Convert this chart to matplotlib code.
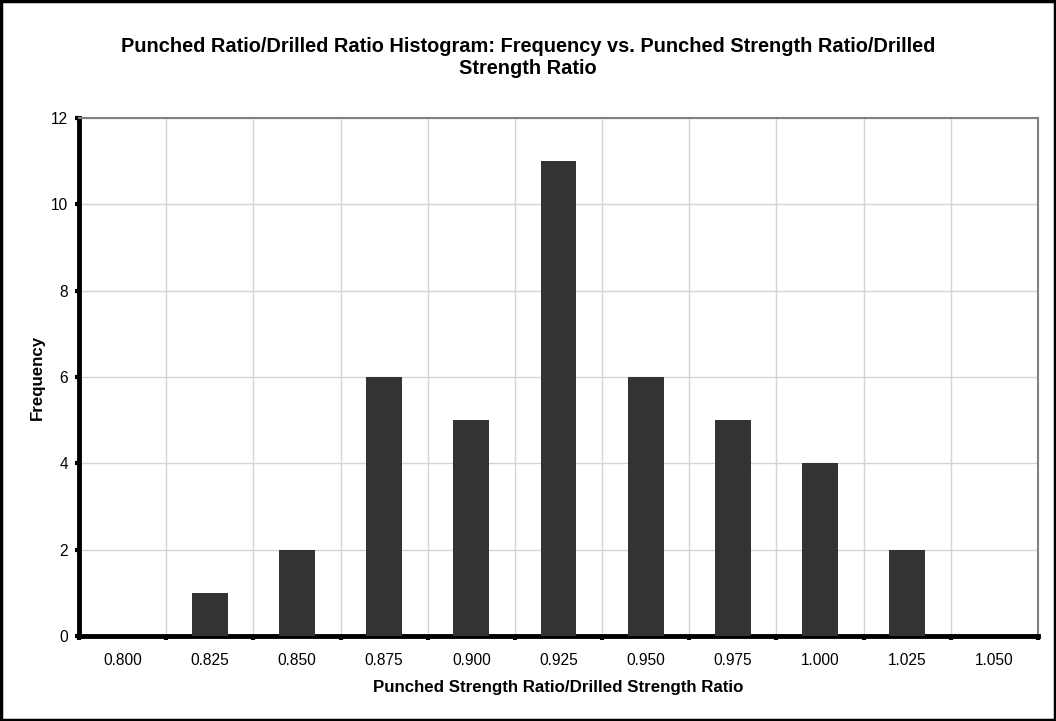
import matplotlib
matplotlib.use('Agg')
import matplotlib.pyplot as plt
from matplotlib.patches import Rectangle

plt.rcParams['font.family'] = ['Liberation Sans', 'DejaVu Sans']

# 数据
categories = ["0.800", "0.825", "0.850", "0.875", "0.900", "0.925",
              "0.950", "0.975", "1.000", "1.025", "1.050"]
frequency = [0, 1, 2, 6, 5, 11, 6, 5, 4, 2, 0]
y_ticks = [0, 2, 4, 6, 8, 10, 12]

fig = plt.figure(figsize=(10.56, 7.21), dpi=100)
ax = fig.add_axes([0.0748, 0.118, 0.9082, 0.7183])

x = list(range(len(categories)))
ax.bar(x, frequency, width=0.41, color='#333333', zorder=3)

ax.set_xlim(-0.5, len(categories) - 0.5)
ax.set_ylim(0, 12)
ax.set_yticks(y_ticks)
ax.set_yticklabels([str(v) for v in y_ticks], fontsize=11.2)

# 类别刻度在边界，标签在中间
ax.set_xticks([i - 0.5 for i in range(len(categories) + 1)])
ax.set_xticklabels([])
ax.set_xticks(x, minor=True)
ax.set_xticklabels(categories, minor=True, fontsize=11.2)
ax.tick_params(axis='x', which='minor', length=0, pad=12)
ax.tick_params(axis='x', which='major', length=3, width=3, direction='out')
ax.tick_params(axis='y', length=3, width=3, direction='out', pad=5)

# 网格线
ax.grid(True, which='major', color='#d4d4d4', linewidth=1, zorder=0)

for side in ['left', 'bottom']:
    ax.spines[side].set_linewidth(3.5)
    ax.spines[side].set_color('black')
for side in ['top', 'right']:
    ax.spines[side].set_linewidth(1.5)
    ax.spines[side].set_color('#808080')

ax.set_xlabel("Punched Strength Ratio/Drilled Strength Ratio", fontsize=12.2,
              fontweight='bold', labelpad=9)
ax.set_ylabel("Frequency", fontsize=12.2, fontweight='bold', labelpad=4)
fig.suptitle("Punched Ratio/Drilled Ratio Histogram: Frequency vs. Punched Strength Ratio/Drilled\nStrength Ratio",
             fontsize=14.4, fontweight='bold', y=0.948, linespacing=1.2)

# 图框
fig.patches.append(Rectangle((0.001, 0.002), 0.998, 0.996, transform=fig.transFigure,
                             fill=False, edgecolor='black', linewidth=2.5))

fig.savefig("out.png", dpi=100)
